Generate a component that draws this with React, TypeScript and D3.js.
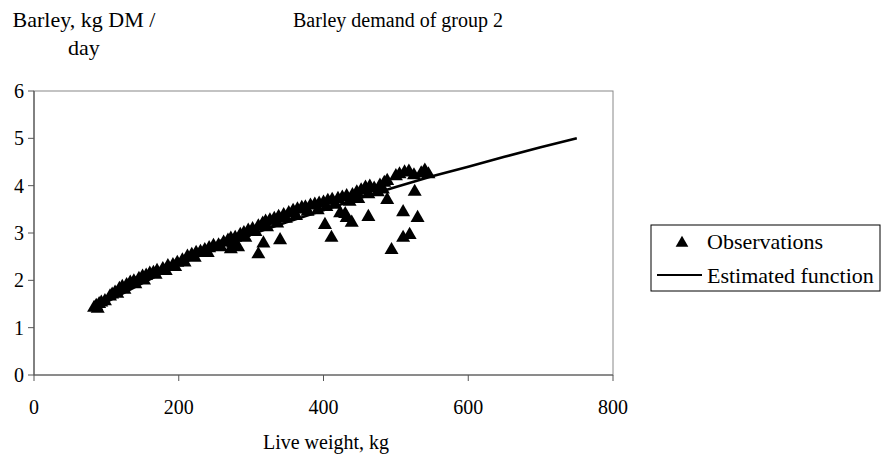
import React from "react";
import * as d3 from "d3";

const xTicks = [0, 200, 400, 600, 800];
const yTicks = [0, 1, 2, 3, 4, 5, 6];

// Estimated function (live weight kg, barley kg DM/day)
const curveWeight = [80, 100, 150, 200, 250, 300, 350, 400, 450, 500, 550, 600, 650, 700, 750];
const curveValue = [1.37, 1.54, 1.94, 2.33, 2.66, 2.97, 3.23, 3.48, 3.74, 3.97, 4.2, 4.4, 4.61, 4.81, 5.0];

// Observations
const obsWeight = [
  83, 86, 90, 93, 105, 108, 112, 118, 122, 128, 133, 138, 145, 150, 155, 160, 165, 170, 178, 185,
  192, 198, 205, 212, 218, 224, 230, 236, 242, 248, 255, 262, 268, 272, 278, 285, 290, 296, 302, 310,
  316, 320, 326, 332, 338, 345, 352, 358, 364, 370, 375, 382, 388, 394, 400, 406, 412, 420, 426, 432,
  440, 446, 452, 458, 464, 470, 478, 484, 488, 505, 512, 518, 535, 540, 545,
  88, 98, 115, 125, 140, 152, 168, 182, 195, 208, 222, 240, 258, 275, 292, 306, 322, 336, 348, 362,
  378, 392, 404, 416, 436, 448, 462, 475, 482, 500, 525,
  272, 282, 310, 317, 340, 411, 402, 423, 432, 430, 439, 462, 494, 510, 519, 510, 530, 526, 488
];
const obsValue = [
  1.42, 1.46, 1.5, 1.53, 1.66, 1.7, 1.74, 1.82, 1.86, 1.9, 1.95, 1.98, 2.03, 2.08, 2.1, 2.14, 2.16, 2.2, 2.24, 2.3,
  2.32, 2.37, 2.42, 2.5, 2.54, 2.58, 2.6, 2.64, 2.68, 2.73, 2.74, 2.8, 2.84, 2.88, 2.9, 2.96, 3.0, 3.05, 3.08, 3.14,
  3.2, 3.24, 3.27, 3.3, 3.34, 3.38, 3.42, 3.47, 3.5, 3.53, 3.54, 3.58, 3.6, 3.62, 3.64, 3.68, 3.7, 3.72, 3.75, 3.78,
  3.8, 3.86, 3.9, 3.96, 3.98, 3.94, 4.0, 4.06, 4.1, 4.24, 4.28, 4.3, 4.26, 4.32, 4.24,
  1.4, 1.56, 1.72, 1.8, 1.92, 2.0, 2.12, 2.2, 2.28, 2.38, 2.48, 2.58, 2.7, 2.78, 2.9, 3.02, 3.12, 3.2, 3.3, 3.36,
  3.45, 3.48, 3.55, 3.6, 3.66, 3.72, 3.82, 3.86, 3.92, 4.2, 4.22,
  2.66, 2.7, 2.55, 2.78, 2.85, 2.9, 3.17, 3.42, 3.32, 3.4, 3.22, 3.34, 2.64, 2.9, 2.96, 3.44, 3.32, 3.87, 3.7
];

const W = 881;
const H = 459;
const FONT = "Liberation Serif, DejaVu Serif, Times New Roman, serif";

export default function App() {
  const x = d3.scaleLinear().domain([0, 800]).range([34, 613]);
  const y = d3.scaleLinear().domain([0, 6]).range([375, 91]);
  const line = d3
    .line<number>()
    .x((_, i) => x(curveWeight[i]))
    .y((d) => y(d));
  const tri = d3.symbol(d3.symbolTriangle, 85)() as string;
  const legTri = d3.symbol(d3.symbolTriangle, 70)() as string;
  const ts = { fontFamily: FONT, fontSize: 20, fill: "#000" } as React.CSSProperties;
  const tl = { fontFamily: FONT, fontSize: 22, fill: "#000" } as React.CSSProperties;

  return (
    <svg
      width={W}
      height={H}
      style={{ position: "absolute", left: 0, top: 0, background: "#fff" }}
    >
      {/* plot frame */}
      <rect x={34} y={91} width={579} height={284} fill="none" stroke="#888" strokeWidth={1} />
      <line x1={34} x2={34} y1={91} y2={375} stroke="#555" strokeWidth={1.2} />
      <line x1={34} x2={613} y1={375} y2={375} stroke="#555" strokeWidth={1.2} />

      {yTicks.map((t) => (
        <g key={"y" + t}>
          <line x1={28} x2={34} y1={y(t)} y2={y(t)} stroke="#555" />
          <text x={24} y={y(t)} dy="0.35em" textAnchor="end" style={ts}>
            {t}
          </text>
        </g>
      ))}
      {xTicks.map((t) => (
        <g key={"x" + t}>
          <line x1={x(t)} x2={x(t)} y1={375} y2={381} stroke="#555" />
          <text x={x(t)} y={414} textAnchor="middle" style={ts}>
            {t}
          </text>
        </g>
      ))}

      <path d={line(curveValue) as string} fill="none" stroke="#000" strokeWidth={2.6} />

      {obsWeight.map((w, i) => (
        <path key={"o" + i} d={tri} transform={`translate(${x(w)},${y(obsValue[i])})`} fill="#000" />
      ))}

      {/* titles */}
      <text x={84} y={27} textAnchor="middle" style={tl}>Barley, kg DM /</text>
      <text x={84} y={55} textAnchor="middle" style={tl}>day</text>
      <text x={398} y={27} textAnchor="middle" style={ts}>Barley demand of group 2</text>
      <text x={326} y={449} textAnchor="middle" style={ts}>Live weight, kg</text>

      {/* legend */}
      <rect x={651} y={225} width={229} height={66} fill="#fff" stroke="#000" strokeWidth={1} />
      <path d={legTri} transform={`translate(682,243)`} fill="#000" />
      <text x={707} y={249} style={tl}>Observations</text>
      <line x1={657} x2={702} y1={275} y2={275} stroke="#000" strokeWidth={2} />
      <text x={707} y={283} style={tl}>Estimated function</text>
    </svg>
  );
}
